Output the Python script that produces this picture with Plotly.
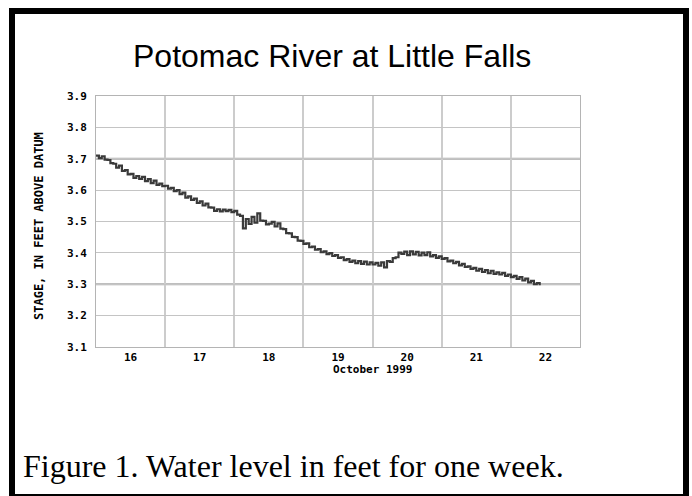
import pandas as pd
import plotly.graph_objects as go

# Hourly stage readings (feet above datum), starting 1999-10-16 00:00
oct16 = [3.710, 3.702, 3.708, 3.697, 3.696, 3.686, 3.684, 3.672, 3.678, 3.661, 3.664, 3.650,
         3.652, 3.639, 3.645, 3.636, 3.642, 3.629, 3.635, 3.622, 3.630, 3.617, 3.621, 3.613]
oct17 = [3.614, 3.605, 3.607, 3.597, 3.600, 3.587, 3.592, 3.576, 3.580, 3.569, 3.573, 3.559,
         3.564, 3.551, 3.557, 3.545, 3.544, 3.534, 3.539, 3.532, 3.538, 3.533, 3.537, 3.530]
oct18 = [3.534, 3.522, 3.518, 3.478, 3.508, 3.492, 3.515, 3.496, 3.526, 3.503, 3.502, 3.491,
         3.493, 3.499, 3.484, 3.494, 3.477, 3.476, 3.463, 3.462, 3.451, 3.450, 3.439, 3.438]
oct19 = [3.429, 3.430, 3.418, 3.420, 3.410, 3.412, 3.402, 3.405, 3.396, 3.399, 3.390, 3.393,
         3.384, 3.386, 3.377, 3.380, 3.371, 3.375, 3.367, 3.374, 3.365, 3.372, 3.363, 3.370]
oct20 = [3.363, 3.368, 3.359, 3.370, 3.354, 3.374, 3.371, 3.383, 3.386, 3.401, 3.397, 3.404,
         3.393, 3.405, 3.395, 3.403, 3.392, 3.401, 3.393, 3.402, 3.389, 3.393, 3.384, 3.389]
oct21 = [3.381, 3.383, 3.373, 3.375, 3.367, 3.371, 3.360, 3.365, 3.355, 3.357, 3.349, 3.352,
         3.343, 3.349, 3.339, 3.345, 3.335, 3.343, 3.333, 3.338, 3.331, 3.336, 3.327, 3.331]
oct22 = [3.323, 3.327, 3.317, 3.323, 3.312, 3.318, 3.306, 3.311, 3.300, 3.304, 3.297]

stage = oct16 + oct17 + oct18 + oct19 + oct20 + oct21 + oct22
times = pd.date_range("1999-10-16 00:00", periods=len(stage), freq="h")

day_labels = ["16", "17", "18", "19", "20", "21", "22"]
day_centers = pd.date_range("1999-10-16 12:00", periods=7, freq="D")
y_ticks = [3.1, 3.2, 3.3, 3.4, 3.5, 3.6, 3.7, 3.8, 3.9]
y_labels = ["3.1", "3.2", "3.3", "3.4", "3.5", "3.6", "3.7", "3.8", "3.9"]
heavy_lines = [3.7, 3.3]

# plot area in pixels
L, R, T, B = 96, 580, 96, 347
W, H = R - L, B - T
def px(x):
    return (x - L) / W
def py(y):
    return (B - y) / H

mono = "DejaVu Sans Mono"

fig = go.Figure()
fig.add_trace(go.Scatter(x=times, y=stage, mode="lines", line=dict(color="#3a3a3a", width=2.2, shape="hv"),
                         hoverinfo="x+y", showlegend=False))

for v in heavy_lines:
    fig.add_shape(type="line", xref="paper", yref="y", x0=0, x1=1, y0=v, y1=v,
                  line=dict(color="#a8a8a8", width=2), layer="below")

# outer black frame
fig.add_shape(type="rect", xref="paper", yref="paper", x0=px(12), x1=px(686), y0=py(497), y1=py(11),
              line=dict(color="black", width=6), fillcolor="rgba(0,0,0,0)")

fig.update_layout(
    width=692, height=496,
    margin=dict(l=L, r=692 - R, t=T, b=496 - B, autoexpand=False),
    paper_bgcolor="white", plot_bgcolor="white",
    xaxis=dict(
        range=[pd.Timestamp("1999-10-16"), pd.Timestamp("1999-10-23")],
        tickmode="array", tickvals=day_centers, ticktext=day_labels,
        showgrid=False, ticks="", zeroline=False,
        showline=True, linecolor="#b4b4b4", linewidth=1, mirror=True,
        tickfont=dict(family=mono, size=11, color="black", weight="bold"),
        ticklabelstandoff=0,
        minor=dict(tickmode="linear", tick0="1999-10-16", dtick=86400000, showgrid=True,
                   gridcolor="#cccccc", gridwidth=1.5, ticks=""),
        fixedrange=True,
    ),
    yaxis=dict(
        range=[3.1, 3.9], tickmode="array", tickvals=y_ticks, ticktext=y_labels,
        showgrid=True, gridcolor="#c4c4c4", gridwidth=1, ticks="", zeroline=False,
        showline=True, linecolor="#b4b4b4", linewidth=1, mirror=True,
        tickfont=dict(family=mono, size=11, color="black", weight="bold"),
        ticklabelstandoff=6,
        fixedrange=True,
    ),
    annotations=[
        dict(text="Potomac River at Little Falls", xref="paper", yref="paper", x=px(332), y=py(56),
             showarrow=False, xanchor="center", yanchor="middle",
             font=dict(family="Liberation Sans", size=32, color="black")),
        dict(text="STAGE, IN FEET ABOVE DATUM", xref="paper", yref="paper", x=px(39), y=py(226),
             showarrow=False, xanchor="center", yanchor="middle", textangle=-90,
             font=dict(family=mono, size=12, color="black", weight="bold")),
        dict(text="October 1999", xref="paper", yref="paper", x=px(372), y=py(369),
             showarrow=False, xanchor="center", yanchor="middle",
             font=dict(family=mono, size=11, color="black", weight="bold")),
        dict(text="Figure 1. Water level in feet for one week.", xref="paper", yref="paper",
             x=px(21), y=py(466), showarrow=False, xanchor="left", yanchor="middle",
             font=dict(family="Liberation Serif", size=32, color="black")),
    ],
)

fig.write_html("out.html", config={"displayModeBar": False},
               post_script="document.body.style.margin='0';")
